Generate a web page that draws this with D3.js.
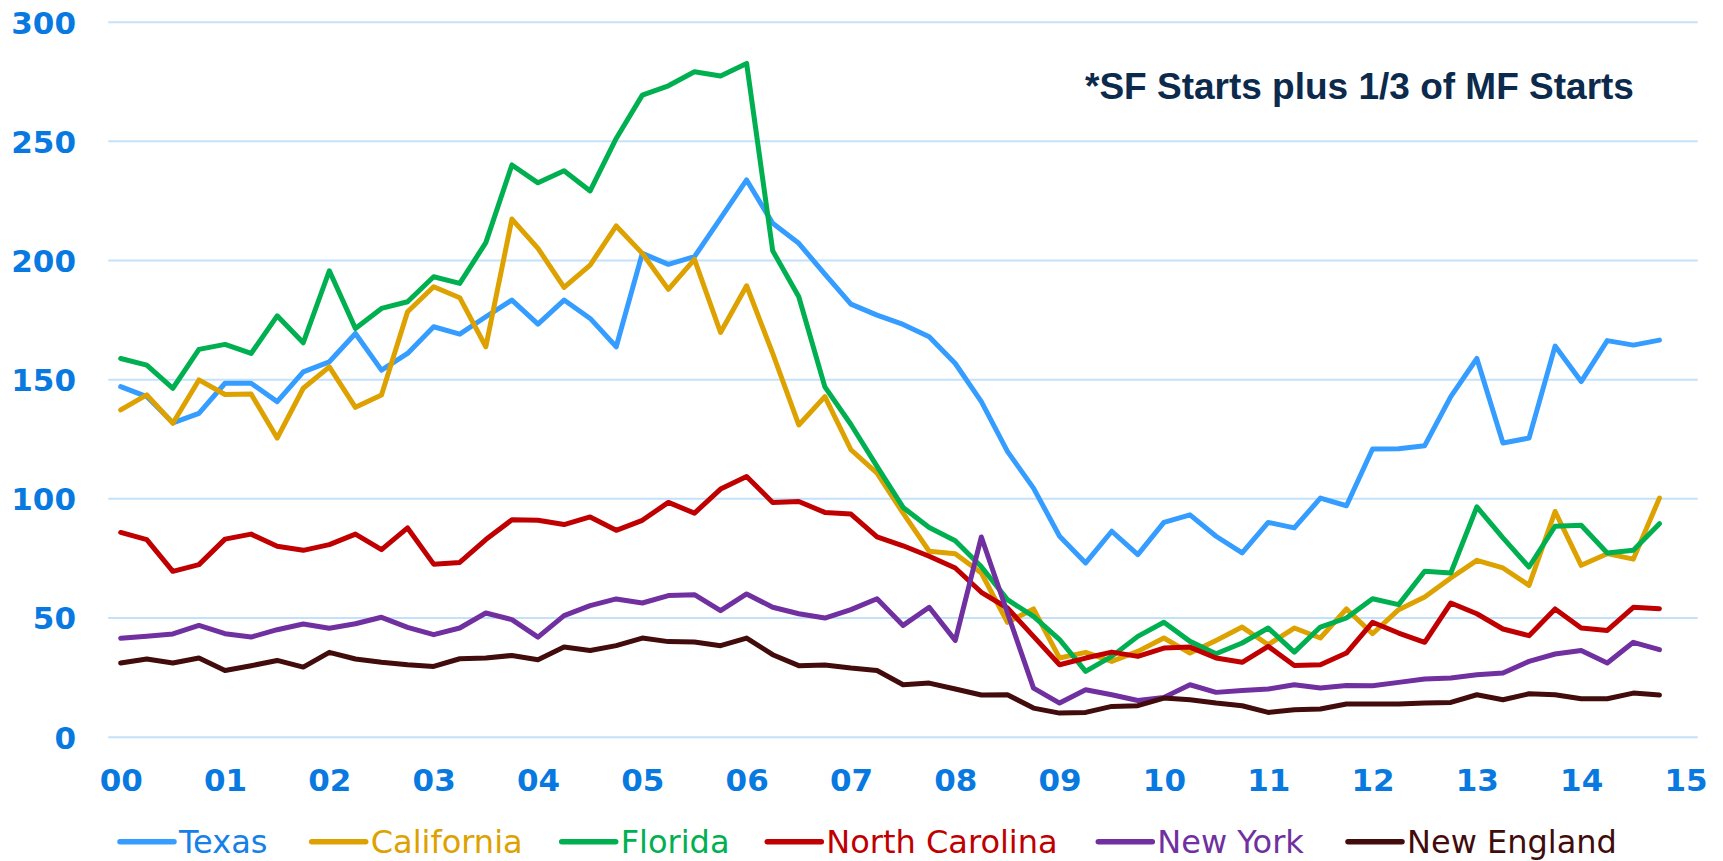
<!DOCTYPE html>
<html>
<head>
<meta charset="utf-8">
<script src="https://cdn.jsdelivr.net/npm/d3@7/dist/d3.min.js"></script>
<style>
  html, body { margin: 0; padding: 0; background: #fff; }
  svg { display: block; }
</style>
</head>
<body>
<script>
// Housing starts by state, quarterly 2000Q1 - 2014Q4 (thousands, SAAR)
var yearLabels = ["00","01","02","03","04","05","06","07","08","09","10","11","12","13","14","15"];
var yTicks = [0, 50, 100, 150, 200, 250, 300];

var texas = [146.9,142.7,131.7,135.7,148.3,148.3,140.6,153.1,157.3,169.2,153.8,160.8,172.0,168.9,176.2,183.2,173.1,183.2,175.5,163.6,
             202.8,198.2,201.4,217.5,233.6,215.4,207.0,194.1,181.5,176.9,173.0,167.8,156.6,140.6,119.7,104.3,84.1,72.9,86.2,76.4,
             89.9,93.1,84.1,77.1,89.9,87.6,100.1,96.9,120.7,120.8,122.1,142.7,158.7,123.2,125.3,163.9,149.0,166.2,164.3,166.4];
var california = [137.1,143.4,131.5,149.7,143.6,143.8,125.3,146.2,155.2,138.2,143.4,178.3,188.8,184.2,163.6,217.2,204.9,188.5,197.9,214.3,
             202.8,187.7,200.3,169.6,189.2,160.8,130.8,142.7,120.4,110.6,93.8,77.8,76.8,68.7,48.0,53.6,33.0,35.4,31.6,35.8,
             41.4,35.1,40.4,46.0,38.6,45.6,41.4,53.6,43.2,53.3,58.6,66.6,74.0,70.8,63.5,94.5,71.9,76.8,74.5,100.1];
var florida = [158.7,155.9,146.2,162.5,164.6,160.8,176.6,165.3,195.5,171.3,179.7,182.5,193.0,190.2,207.3,239.9,232.4,237.5,229.0,251.0,
             269.2,273.1,279.0,277.2,282.5,203.9,184.6,146.8,131.0,113.4,96.2,87.8,82.2,71.3,57.5,50.5,40.7,27.4,33.7,42.1,
             48.0,40.0,34.8,39.3,45.6,35.5,46.0,49.8,57.9,55.4,69.4,68.7,96.4,83.4,71.2,88.3,88.7,77.1,78.2,89.4];
var northCarolina = [85.7,82.7,69.4,72.2,82.9,85.0,79.9,78.2,80.6,85.0,78.5,87.6,72.4,73.1,82.7,91.0,90.8,89.0,92.2,86.6,
             90.8,98.3,93.8,103.9,109.2,98.3,98.7,94.1,93.4,83.8,80.1,75.7,70.8,60.6,54.0,42.1,30.2,33.0,35.5,33.7,
             37.2,37.6,33.0,31.2,37.9,29.9,30.2,35.1,48.0,43.5,39.6,56.1,51.6,45.2,42.4,53.6,45.6,44.6,54.3,53.7];
var newYork = [41.3,42.1,43.1,46.7,43.2,41.8,44.9,47.3,45.5,47.4,50.1,45.9,42.8,45.6,51.9,49.1,41.8,50.8,55.0,57.8,
             56.1,59.2,59.6,52.9,59.9,54.3,51.6,49.8,53.3,57.9,46.7,54.3,40.4,83.8,52.0,20.4,14.1,19.7,17.6,15.2,
             16.5,21.8,18.6,19.4,20.0,21.8,20.4,21.5,21.4,22.8,24.2,24.6,26.0,26.7,31.6,34.7,36.2,30.9,39.6,36.5];
var newEngland = [30.9,32.6,30.9,33.0,27.8,29.8,32.0,29.2,35.4,32.6,31.2,30.2,29.5,32.7,33.0,34.1,32.3,37.6,36.2,38.2,
             41.4,39.9,39.7,38.2,41.4,34.4,29.8,30.1,28.8,27.8,21.8,22.5,20.0,17.5,17.6,12.0,9.9,10.2,12.7,13.0,
             16.2,15.5,14.1,13.0,10.2,11.3,11.6,13.7,13.7,13.7,14.1,14.4,17.6,15.5,18.0,17.6,15.9,15.9,18.3,17.5];

var seriesNames  = ["Texas", "California", "Florida", "North Carolina", "New York", "New England"];
var seriesValues = [texas, california, florida, northCarolina, newYork, newEngland];
var lineColors   = ["#349dff", "#dda100", "#00b050", "#c00000", "#7030a0", "#420c0c"];
var textColors   = ["#1580e6", "#dda100", "#00b050", "#c00000", "#7030a0", "#420c0c"];

var note = "*SF Starts plus 1/3 of MF Starts";

var width = 1723, height = 861;
var axisBlue = "#0879e0";

var svg = d3.select("body").append("svg")
    .attr("width", width)
    .attr("height", height);

// x: quarter index, 4 per year, year labels every 4
var x = d3.scaleLinear().domain([0, 60]).range([120.7, 1685.5]);
var y = d3.scaleLinear().domain([0, 300]).range([736.7, 21.7]);

var gridLeft = 108.3, gridRight = 1697.7;

// grid lines
svg.append("g")
    .attr("transform", "translate(" + gridLeft + ",0)")
    .call(d3.axisRight(y).tickValues(yTicks).tickFormat("").tickSize(gridRight - gridLeft))
    .call(function(g) { g.select(".domain").remove(); })
    .selectAll("line")
    .attr("stroke", "#c4e1fa")
    .attr("stroke-width", 2);

// y axis labels
var yAxis = svg.append("g")
    .attr("transform", "translate(76,0)")
    .call(d3.axisLeft(y).tickValues(yTicks).tickSize(0).tickPadding(0));
yAxis.select(".domain").remove();
yAxis.selectAll("text")
    .attr("dy", "0.365em")
    .attr("fill", axisBlue)
    .style("font-family", "'DejaVu Sans', Verdana, sans-serif")
    .style("font-weight", "bold")
    .style("font-size", "31px");

// x axis labels
var xAxis = svg.append("g")
    .attr("transform", "translate(0," + y(0) + ")")
    .call(d3.axisBottom(x)
        .tickValues(d3.range(0, 61, 4))
        .tickFormat(function(d) { return yearLabels[d / 4]; })
        .tickSize(0).tickPadding(32));
xAxis.select(".domain").remove();
xAxis.selectAll("text")
    .attr("fill", axisBlue)
    .style("font-family", "'DejaVu Sans', Verdana, sans-serif")
    .style("font-weight", "bold")
    .style("font-size", "31px");

// series lines
var line = d3.line()
    .x(function(d, i) { return x(i); })
    .y(function(d) { return y(d); });

svg.append("g").selectAll("path")
    .data(seriesValues)
    .join("path")
    .attr("d", line)
    .attr("fill", "none")
    .attr("stroke", function(d, i) { return lineColors[i]; })
    .attr("stroke-width", 5)
    .attr("stroke-linejoin", "round")
    .attr("stroke-linecap", "round");

// note
svg.append("text")
    .attr("x", 1085)
    .attr("y", 99)
    .attr("fill", "#0c2a4c")
    .style("font-family", "'Liberation Sans', Arial, sans-serif")
    .style("font-weight", "bold")
    .style("font-size", "37px")
    .text(note);

var legendX = [120, 311.7, 561.7, 767.3, 1098.3, 1348];
var ly = 841.7;
var legend = svg.append("g").selectAll("g")
    .data(seriesNames)
    .join("g")
    .attr("transform", function(d, i) { return "translate(" + legendX[i] + "," + ly + ")"; });
legend.append("line")
    .attr("x1", 0).attr("x2", 54)
    .attr("stroke", function(d, i) { return lineColors[i]; })
    .attr("stroke-width", 5.5)
    .attr("stroke-linecap", "round");
legend.append("text")
    .attr("x", 59)
    .attr("y", 11.5)
    .attr("fill", function(d, i) { return textColors[i]; })
    .style("font-family", "'DejaVu Sans', Verdana, sans-serif")
    .style("font-size", "32px")
    .text(function(d) { return d; });
</script>
</body>
</html>
